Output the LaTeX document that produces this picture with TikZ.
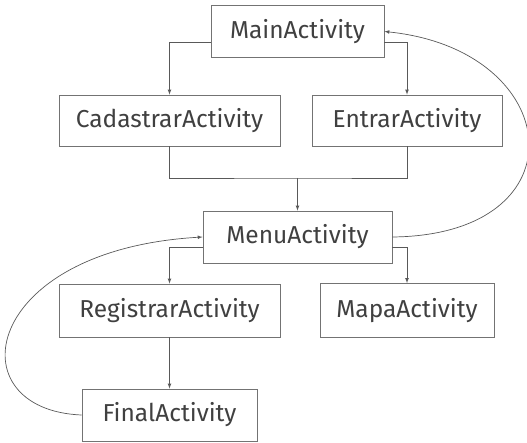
\documentclass[tikz,border=0pt]{standalone}
\usepackage{fontspec}
\setmainfont{Fira Sans}
\usetikzlibrary{positioning}

\begin{document}
\begin{tikzpicture}[x=1pt,y=-1pt,>=latex,
activity/.style={draw=black!55,line width=0.8pt,text=black!75,font=\fontsize{24.5}{28}\selectfont,inner sep=0pt,minimum height=52pt},
link/.style={draw=black!65,line width=0.7pt}]

\useasboundingbox (0,0) rectangle (527,443);

%Activities
\node[activity,minimum width=173pt] (main) at (297.5,31.5) {MainActivity};
\node[activity,minimum width=221pt,minimum height=51pt] (cadastrar) at (169.5,120.5) {CadastrarActivity};
\node[activity,minimum width=190pt,minimum height=51pt] (entrar) at (407,120.5) {EntrarActivity};
\node[activity,minimum width=189pt] (menu) at (297.5,237) {MenuActivity};
\node[activity,minimum width=221pt,minimum height=53pt] (registrar) at (169.5,310.5) {RegistrarActivity};
\node[activity,minimum width=174pt,minimum height=54pt] (mapa) at (407,310.5) {MapaActivity};
\node[activity,minimum width=175pt] (final) at (169.5,415) {FinalActivity};

%Verbindungen
\draw[link,->] ([yshift=-11pt]main.west) -| (cadastrar.north);
\draw[link,->] ([yshift=-11pt]main.east) -| (entrar.north);
\coordinate (join) at (297.5,178);
\draw[link] (cadastrar.south) |- (join) -| (entrar.south);
\draw[link,->] (join) -- (menu.north);
\draw[link,->] ([yshift=-10pt]menu.west) -| (registrar.north);
\draw[link,->] ([yshift=-10pt]menu.east) -| (mapa.north);
\draw[link,->] (registrar.south) -- (final.north);

%Rueckwege
\draw[link,->] (final.west) .. controls (-45,410) and (-20,250) .. (menu.west);
\draw[link,->] (menu.east) .. controls (585,235) and (565,50) .. (main.east);
\end{tikzpicture}
\end{document}
